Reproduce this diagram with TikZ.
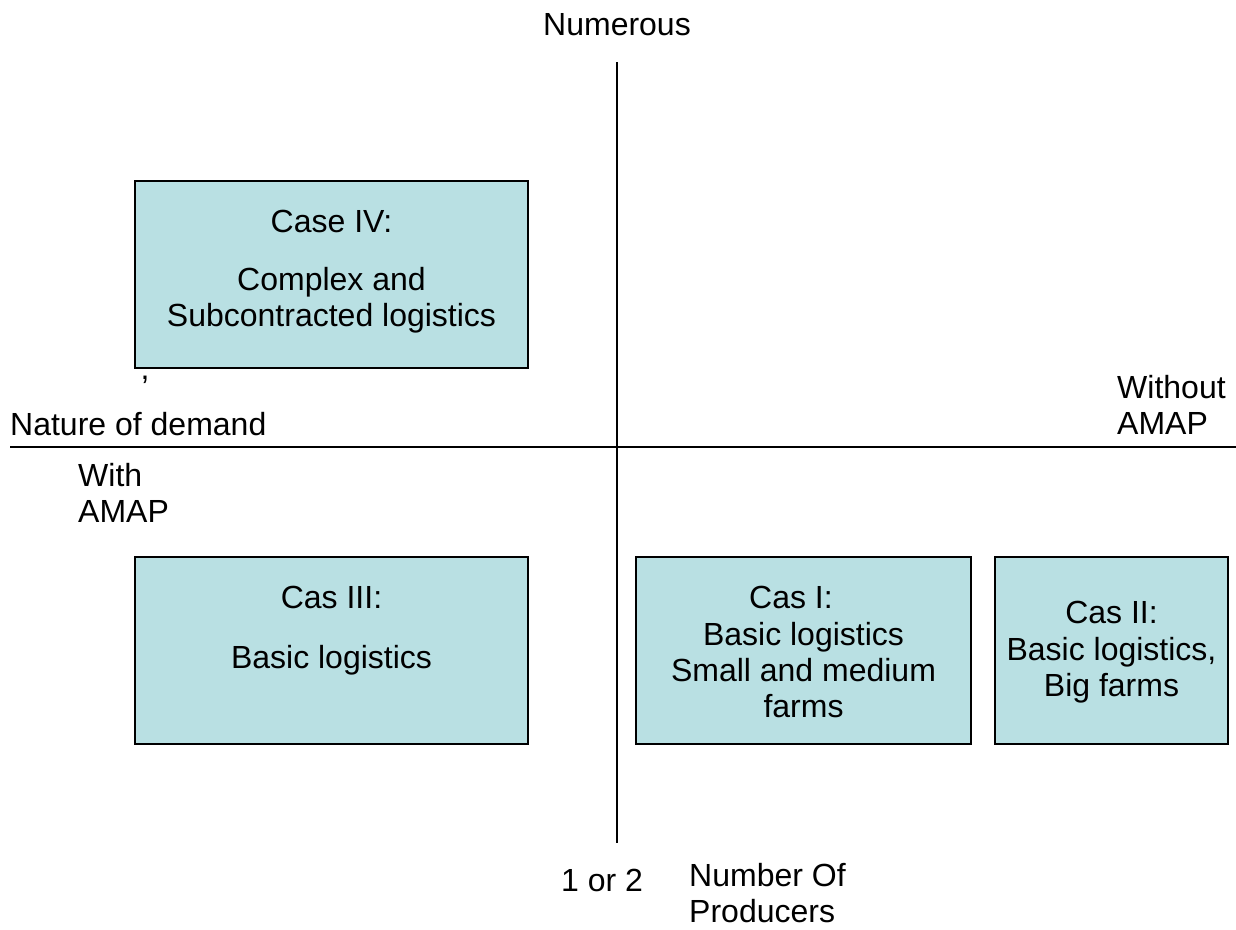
\documentclass[tikz,border=0pt]{standalone}
\usepackage{fontspec}
\setmainfont{Liberation Sans}
\definecolor{boxfill}{RGB}{185,224,227}
\tikzset{
  casebox/.style={draw=black, line width=1.2pt, fill=boxfill, inner sep=0pt},
  lbl/.style={font=\fontsize{32}{36}\selectfont, inner sep=0pt, align=center},
}
\begin{document}
\begin{tikzpicture}[x=1pt, y=-1pt]
    \useasboundingbox (0,0) rectangle (1236,929);
    % axes
    \coordinate (ytop) at (617,62);
    \coordinate (ybot) at (617,843);
    \coordinate (xleft) at (10,447);
    \coordinate (xright) at (1236,447);
    \draw[line width=1.2pt] (ytop) -- (ybot);
    \draw[line width=1.2pt] (xleft) -- (xright);

    % boxes
    \node[casebox, minimum width=393pt, minimum height=187pt] (caseIV) at (331.5,274.5) {};
    \node[casebox, minimum width=393pt, minimum height=187pt] (casIII) at (331.5,650.5) {};
    \node[casebox, minimum width=335pt, minimum height=187pt] (casI) at (803.5,650.5) {};
    \node[casebox, minimum width=233pt, minimum height=187pt] (casII) at (1111.5,650.5) {};

    % texts in the boxes
    \node[lbl] (caseIVtitle) at (caseIV.center |- 0,221) {Case IV:};
    \node[lbl] (caseIVtext) at (caseIV.center |- 0,300) {Complex and\\Subcontracted logistics};
    \node[lbl] (casIIItitle) at (casIII.center |- 0,597) {Cas III:};
    \node[lbl] (casIIItext) at (casIII.center |- 0,660) {Basic logistics};
    \node[lbl] (casItitle) at (791,597) {Cas I:};
    \node[lbl] (casItext) at (803.5,670) {Basic logistics\\Small and medium\\farms};
    \node[lbl] (casIItitle) at (casII.center |- 0,612) {Cas II:};
    \node[lbl] (casIItext) at (casII.center |- 0,670) {Basic logistics,\\Big farms};

    % axis labels
    \node[lbl] (numerous) at (617,25) {Numerous};
    \node[lbl] (comma) at (145,380) {,};
    \node[lbl, anchor=west] (nature) at (10,424) {Nature of demand};
    \node[lbl, anchor=west, align=left] (without) at (1117,405) {Without\\AMAP};
    \node[lbl, anchor=west, align=left] (with) at (78,493) {With\\AMAP};
    \node[lbl] (oneortwo) at (602,880) {1 or 2};
    \node[lbl, anchor=west, align=left] (producers) at (689,893) {Number Of\\Producers};
\end{tikzpicture}
\end{document}
